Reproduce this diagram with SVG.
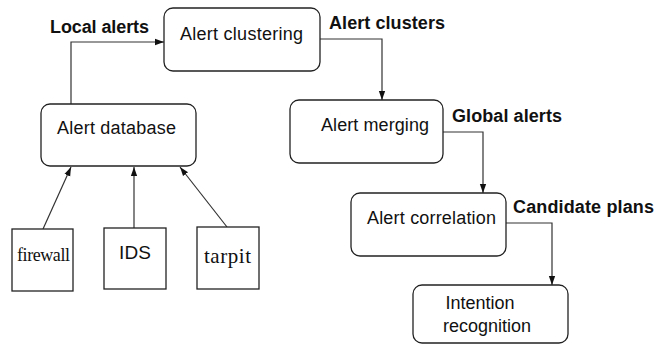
<svg xmlns="http://www.w3.org/2000/svg" width="656" height="345" viewBox="0 0 656 345">
<defs>
<style>
.box{fill:#fff;stroke:#222;stroke-width:1.3}
.t{font-family:"Liberation Sans",Arial,sans-serif;font-size:18px;fill:#111}
.b{font-family:"Liberation Sans",Arial,sans-serif;font-size:18px;font-weight:bold;fill:#111}
.s{font-family:"Liberation Serif","Times New Roman",serif;font-size:18px;fill:#111}
.c{fill:none;stroke:#333;stroke-width:1.2}
</style>
<marker id="ah" viewBox="0 0 10 10" refX="10" refY="5" markerWidth="9" markerHeight="9" markerUnits="userSpaceOnUse" orient="auto">
<path d="M0,1.5 L10,5 L0,8.5 Z" fill="#111"/>
</marker>
</defs>
<rect width="656" height="345" fill="#fff"/>
<g id="connectors">
<polyline class="c" points="71,104 71,42 164,42" marker-end="url(#ah)"/>
<polyline class="c" points="320,39 382,39 382,100" marker-end="url(#ah)"/>
<polyline class="c" points="443,132 483,132 483,193" marker-end="url(#ah)"/>
<polyline class="c" points="506,223 552,223 552,285" marker-end="url(#ah)"/>
<line class="c" x1="43" y1="229" x2="71" y2="167" marker-end="url(#ah)"/>
<line class="c" x1="134" y1="228" x2="134" y2="167" marker-end="url(#ah)"/>
<line class="c" x1="227" y1="227" x2="180" y2="167" marker-end="url(#ah)"/>
<text class="b" x="50" y="33" textLength="99">Local alerts</text>
<text class="b" x="329" y="29" textLength="116">Alert clusters</text>
<text class="b" x="452" y="122" textLength="110">Global alerts</text>
<text class="b" x="513" y="213" textLength="141">Candidate plans</text>
</g>
<g id="alert-clustering">
<rect class="box" x="164" y="8" width="156" height="63" rx="9"/>
<text class="t" x="180" y="40" textLength="123">Alert clustering</text>
</g>
<g id="alert-database">
<rect class="box" x="41" y="104" width="155" height="62" rx="9"/>
<text class="t" x="57" y="134" textLength="119">Alert database</text>
</g>
<g id="alert-merging">
<rect class="box" x="290" y="100" width="153" height="63" rx="9"/>
<text class="t" x="321" y="131" textLength="108">Alert merging</text>
</g>
<g id="alert-correlation">
<rect class="box" x="351" y="193" width="155" height="63" rx="9"/>
<text class="t" x="367" y="224" textLength="129">Alert correlation</text>
</g>
<g id="intention-recognition">
<rect class="box" x="413" y="285" width="155" height="58" rx="9"/>
<text class="t" x="480" y="309" text-anchor="middle">Intention</text>
<text class="t" x="487" y="332" text-anchor="middle">recognition</text>
</g>
<g id="firewall">
<rect class="box" x="12" y="229" width="61" height="62"/>
<text class="s" x="17" y="261" textLength="53">firewall</text>
</g>
<g id="ids">
<rect class="box" x="104" y="228" width="62" height="61"/>
<text class="t" x="119" y="259" style="font-size:19px" textLength="32">IDS</text>
</g>
<g id="tarpit">
<rect class="box" x="197" y="227" width="62" height="62"/>
<text class="s" x="204" y="263" style="font-size:21px" textLength="47">tarpit</text>
</g>
</svg>
